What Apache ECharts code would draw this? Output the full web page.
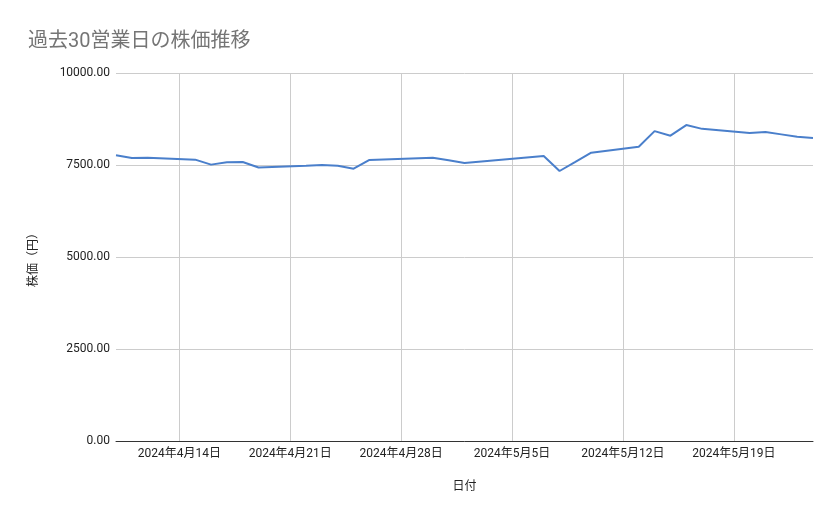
<!DOCTYPE html>
<html>
<head>
<meta charset="utf-8">
<script src="https://cdn.jsdelivr.net/npm/echarts@6/dist/echarts.min.js"></script>
<style>
html,body{margin:0;padding:0;background:#fff;}
#c{width:839px;height:519px;}
</style>
</head>
<body>
<div id="c"></div>
<script>
// Trading days (30 business days) and closing prices (円)
const tradeDates = [
  '2024-04-10','2024-04-11','2024-04-12','2024-04-15','2024-04-16','2024-04-17','2024-04-18','2024-04-19',
  '2024-04-22','2024-04-23','2024-04-24','2024-04-25','2024-04-26','2024-04-30','2024-05-01','2024-05-02',
  '2024-05-07','2024-05-08','2024-05-09','2024-05-10','2024-05-13','2024-05-14','2024-05-15','2024-05-16',
  '2024-05-17','2024-05-20','2024-05-21','2024-05-22','2024-05-23','2024-05-24'
];
const prices = [
  7765, 7690, 7700, 7645, 7510, 7572, 7580, 7432,
  7480, 7500, 7482, 7400, 7636, 7700, 7630, 7555,
  7745, 7337, 7585, 7834, 7995, 8420, 8297, 8585,
  8482, 8370, 8395, 8332, 8265, 8234
];
const yTicks = [0, 2500, 5000, 7500, 10000];
const startDate = '2024-04-10';
const endDate = '2024-05-24';

// Build calendar-day category axis from the range
const categories = [];
const dayOfWeek = [];
{
  const d = new Date(startDate + 'T00:00:00Z');
  const e = new Date(endDate + 'T00:00:00Z');
  while (d <= e) {
    categories.push(d.toISOString().slice(0, 10));
    dayOfWeek.push(d.getUTCDay());
    d.setUTCDate(d.getUTCDate() + 1);
  }
}
const priceMap = {};
tradeDates.forEach((t, i) => { priceMap[t] = prices[i]; });
const seriesData = categories.map(c => (c in priceMap ? priceMap[c] : null));
const isSunday = (idx) => dayOfWeek[idx] === 0;
const fmtDate = (s) => {
  const [y, m, d] = s.split('-');
  return y + '年' + parseInt(m, 10) + '月' + parseInt(d, 10) + '日';
};

const FONT = "Roboto, 'Noto Sans CJK JP', sans-serif";
const chart = echarts.init(document.getElementById('c'), null, {renderer: 'canvas'});
chart.setOption({
  animation: false,
  backgroundColor: '#ffffff',
  textStyle: {fontFamily: FONT},
  title: {
    text: '過去30営業日の株価推移',
    left: 23,
    top: 27,
    textStyle: {fontFamily: FONT, fontSize: 20, fontWeight: 'normal', color: '#757575'}
  },
  grid: {left: 116, right: 26, top: 73, bottom: 78, containLabel: false},
  xAxis: {
    type: 'category',
    data: categories,
    boundaryGap: false,
    name: '日付',
    nameLocation: 'middle',
    nameGap: 40,
    nameTextStyle: {fontFamily: FONT, fontSize: 12, color: '#222'},
    axisLine: {show: true, lineStyle: {color: '#333333', width: 1}},
    axisTick: {show: false},
    axisLabel: {
      interval: (idx) => isSunday(idx),
      formatter: (v) => fmtDate(v),
      color: '#222',
      fontSize: 12,
      margin: 7,
      fontFamily: FONT
    },
    splitLine: {
      show: true,
      interval: (idx) => isSunday(idx),
      lineStyle: {color: '#cccccc', width: 1}
    }
  },
  yAxis: {
    type: 'value',
    min: yTicks[0],
    max: yTicks[yTicks.length - 1],
    interval: 2500,
    name: '株価（円）',
    nameLocation: 'middle',
    nameGap: 76,
    nameRotate: 90,
    nameTextStyle: {fontFamily: FONT, fontSize: 12, color: '#222'},
    axisLine: {show: false},
    axisTick: {show: false},
    axisLabel: {
      formatter: (v) => v.toFixed(2),
      color: '#222',
      fontSize: 12,
      margin: 6,
      fontFamily: FONT
    },
    splitLine: {show: true, lineStyle: {color: '#cccccc', width: 1}}
  },
  series: [{
    type: 'line',
    data: seriesData,
    connectNulls: true,
    showSymbol: false,
    symbol: 'none',
    smooth: false,
    lineStyle: {color: '#4a7fcb', width: 2},
    itemStyle: {color: '#4a7fcb'}
  }]
});
</script>
</body>
</html>
